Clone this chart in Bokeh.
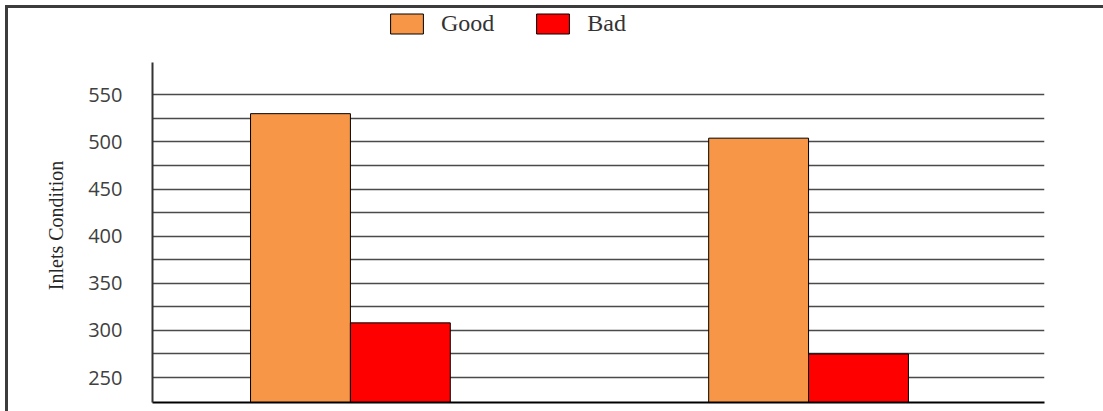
import numpy as np
from bokeh.plotting import figure
from bokeh.models import Range1d, FixedTicker, ColumnDataSource, Legend, LegendItem
from bokeh.transform import dodge
from bokeh.embed import file_html
from bokeh.resources import INLINE

# ---- data ----
categories = ["Group 1", "Group 2"]
good_values = [530, 504]
bad_values = [308, 275]
series_labels = ["Good", "Bad"]
y_tick_values = [250, 300, 350, 400, 450, 500, 550]
grid_values = [250, 275, 300, 325, 350, 375, 400, 425, 450, 475, 500, 525, 550]
y_axis_title = "Inlets Condition"

# ---- styles / layout ----
GOOD_COLOR = "#F79646"
BAD_COLOR = "#FF0000"
BAR_W = 0.218
Y_START, Y_AXIS_TOP, Y_END = 223.5, 584.6, 641.6
# non-breaking spaces shift the (frame-centred) axis title down to sit beside the axis line
TITLE_PAD = "\u00a0" * 8

source = ColumnDataSource(dict(
    x=np.arange(len(categories)),
    cat=categories,
    good=good_values,
    bad=bad_values,
))

p = figure(
    width=1103, height=411,
    output_backend="svg", toolbar_location=None,
    x_range=Range1d(-0.432, 1.515),
    y_range=Range1d(Y_START, Y_END),
    min_border_left=152, min_border_right=59,
    min_border_top=8, min_border_bottom=9,
    background_fill_color="white", border_fill_color=None,
)
p.outline_line_color = None
p.styles = {
    "background-color": "white",
    "box-shadow": "inset 5px 5px 0 0 white, inset 8px 8px 0 0 #3c3c3c",
}

r_good = p.vbar(x=dodge("x", -BAR_W / 2), top="good", bottom=0, width=BAR_W,
                source=source, fill_color=GOOD_COLOR, line_color="black", line_width=1)
r_bad = p.vbar(x=dodge("x", BAR_W / 2), top="bad", bottom=0, width=BAR_W,
               source=source, fill_color=BAD_COLOR, line_color="black", line_width=1)

# grid
p.xgrid.visible = False
p.ygrid.ticker = FixedTicker(ticks=grid_values)
p.ygrid.grid_line_color = "#4a4a4a"
p.ygrid.grid_line_width = 1.6

# y axis
ya = p.yaxis[0]
ya.ticker = FixedTicker(ticks=y_tick_values)
ya.bounds = (Y_START, Y_AXIS_TOP)
ya.major_tick_in = 0
ya.major_tick_out = 0
ya.minor_tick_in = 0
ya.minor_tick_out = 0
ya.axis_line_color = "#333333"
ya.axis_line_width = 2
ya.major_label_standoff = 30
ya.major_label_text_font = "Open Sans"
ya.major_label_text_font_size = "20px"
ya.major_label_text_color = "#404040"
ya.axis_label = y_axis_title + TITLE_PAD
ya.axis_label_text_font = "Liberation Serif"
ya.axis_label_text_font_size = "20px"
ya.axis_label_text_font_style = "normal"
ya.axis_label_text_color = "#262626"
ya.axis_label_standoff = 18

# x axis
xa = p.xaxis[0]
xa.ticker = FixedTicker(ticks=[])
xa.major_tick_in = 0
xa.major_tick_out = 0
xa.minor_tick_in = 0
xa.minor_tick_out = 0
xa.major_label_text_font_size = "0px"
xa.major_label_standoff = 0
xa.axis_line_color = "black"
xa.axis_line_width = 2

legend = Legend(
    items=[LegendItem(label=series_labels[0], renderers=[r_good]),
           LegendItem(label=series_labels[1], renderers=[r_bad])],
    orientation="horizontal",
    location=(234, 365),
    glyph_width=41, glyph_height=25,
    label_standoff=14, spacing=38, padding=0, margin=0,
    border_line_color=None, background_fill_alpha=0,
    label_text_font="Liberation Serif", label_text_font_size="24px",
    label_text_color="#333333",
)
p.add_layout(legend)

open("out.html", "w").write(file_html(p, INLINE))
